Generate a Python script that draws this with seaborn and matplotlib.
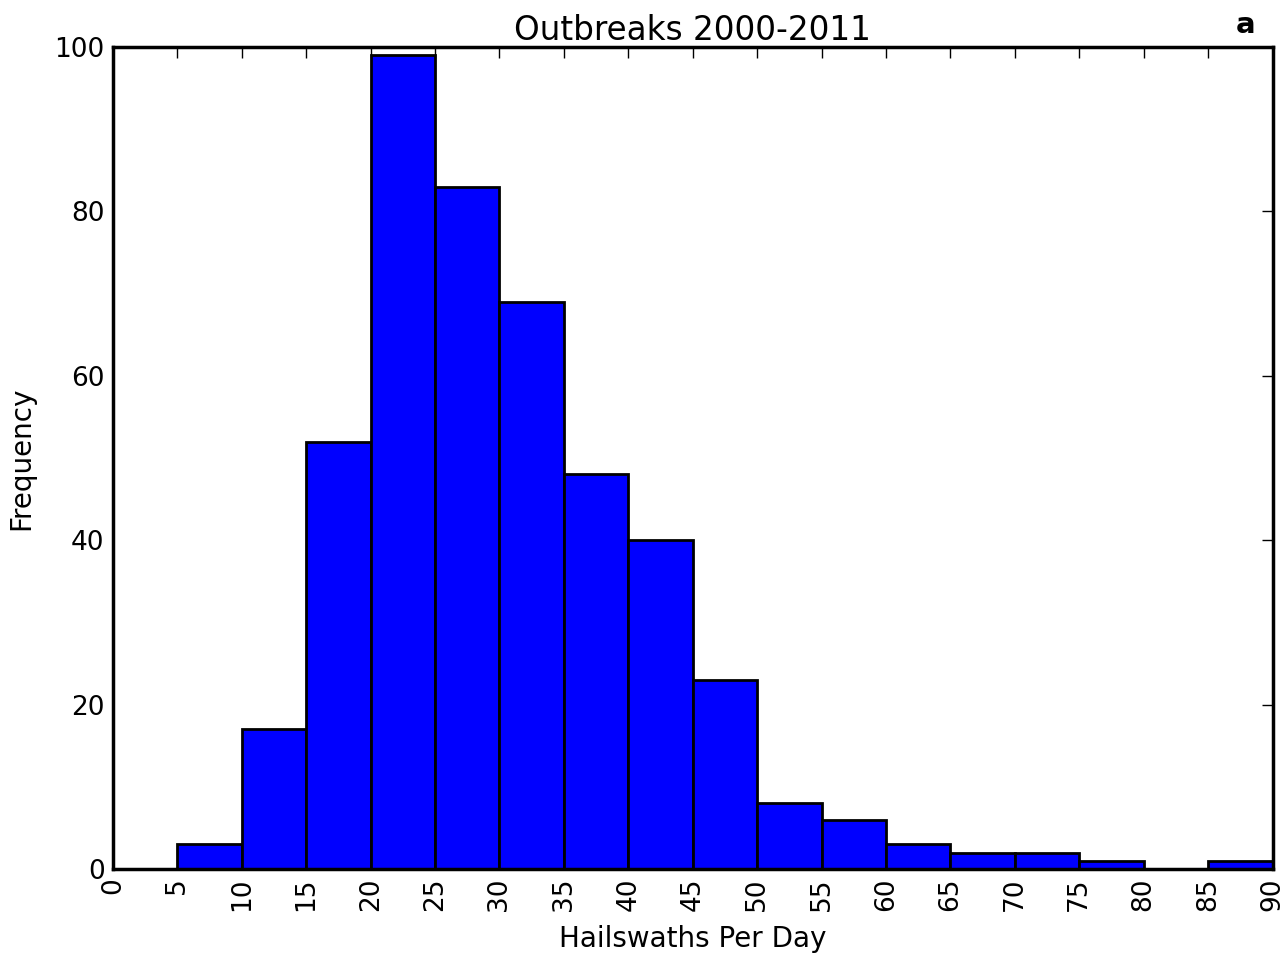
import matplotlib
matplotlib.use("Agg")
import matplotlib.pyplot as plt
import seaborn as sns
import numpy as np
import pandas as pd

bin_edges = list(range(0, 95, 5))
counts = [0, 3, 17, 52, 99, 83, 69, 48, 40, 23, 8, 6, 3, 2, 2, 1, 0, 1]
bin_centers = [e + 2.5 for e in bin_edges[:-1]]
x_ticks = list(range(0, 95, 5))
y_ticks = [0, 20, 40, 60, 80, 100]

sns.set_style("white")
plt.rcParams['font.family'] = ['DejaVu Sans']
plt.rcParams['text.color'] = 'black'
plt.rcParams['axes.labelcolor'] = 'black'
plt.rcParams['xtick.color'] = 'black'
plt.rcParams['ytick.color'] = 'black'

df = pd.DataFrame({"x": bin_centers, "w": counts})

fig = plt.figure(figsize=(12.88, 9.66), dpi=100)
ax = fig.add_axes([0.0877, 0.1004, 0.9003, 0.8509])

sns.histplot(data=df, x="x", weights="w", bins=bin_edges, ax=ax,
             color="#0000ff", alpha=1.0, edgecolor="black", linewidth=2)

ax.set_xlim(0, 90)
ax.set_ylim(0, 100)
ax.set_xticks(x_ticks)
ax.set_xticklabels([str(t) for t in x_ticks], rotation=90)
ax.set_yticks(y_ticks)
ax.tick_params(direction="in", length=8, width=1, top=True, right=True,
               labelsize=19, pad=6, colors="black")
for s in ax.spines.values():
    s.set_linewidth(2.5)
    s.set_color("black")
    s.set_visible(True)

ax.set_xlabel("Hailswaths Per Day", fontsize=20, labelpad=10, color="black")
ax.set_ylabel("Frequency", fontsize=20, labelpad=14, color="black")
ax.set_title("Outbreaks 2000-2011", fontsize=23.5, pad=5, color="black")
ax.text(0.985, 1.01, "a", transform=ax.transAxes, ha="right", va="bottom",
        fontsize=21, fontweight="bold", color="black")

fig.savefig("out.png", dpi=100)
